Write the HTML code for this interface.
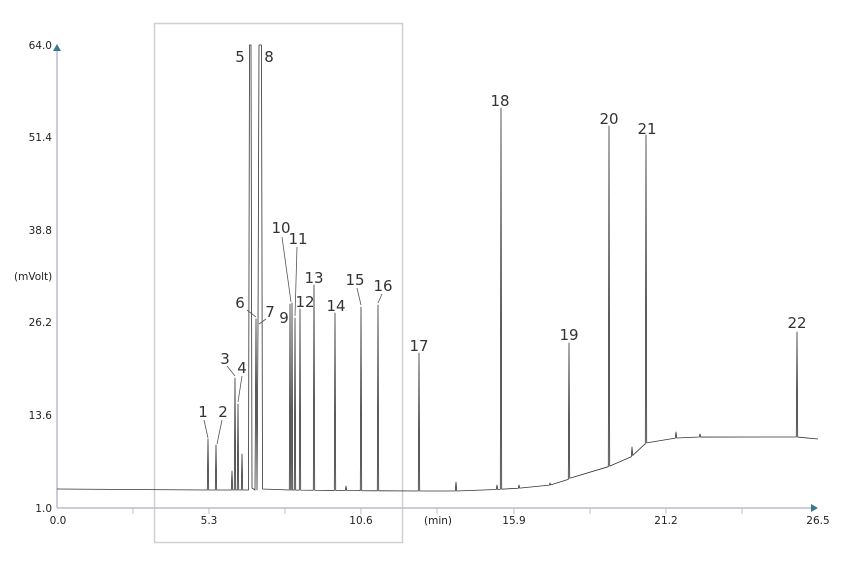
<!DOCTYPE html>
<html><head><meta charset="utf-8"><style>
html,body{margin:0;padding:0;background:#fff;}
svg{display:block;font-family:"DejaVu Sans","Liberation Sans",sans-serif;}
</style></head><body>
<svg id="s" width="846" height="563" viewBox="0 0 846 563" xmlns="http://www.w3.org/2000/svg">
<rect x="154.5" y="23.5" width="248" height="519" fill="none" stroke="#d0d0d0" stroke-width="1.5"/>
<line x1="57" y1="508" x2="812" y2="508" stroke="#b9bdd0" stroke-width="1.5"/>
<line x1="57" y1="508" x2="57" y2="50" stroke="#b9bdd0" stroke-width="1.5"/>
<polygon points="53,51 61,51 57,44" fill="#3a7892"/>
<polygon points="811,504 811,512 818,508" fill="#3a7892"/>
<g stroke="#b9bdd0" stroke-width="1">
<line x1="133" y1="508" x2="133" y2="514"/><line x1="209" y1="508" x2="209" y2="514"/>
<line x1="285" y1="508" x2="285" y2="514"/><line x1="361" y1="508" x2="361" y2="514"/>
<line x1="437" y1="508" x2="437" y2="514"/><line x1="514" y1="508" x2="514" y2="514"/>
<line x1="590" y1="508" x2="590" y2="514"/><line x1="666" y1="508" x2="666" y2="514"/>
<line x1="742" y1="508" x2="742" y2="514"/>
</g>
<g font-size="10.5" fill="#222" text-anchor="end">
<text x="52" y="49">64.0</text><text x="52" y="141">51.4</text><text x="52" y="234">38.8</text>
<text x="52" y="326">26.2</text><text x="52" y="419">13.6</text><text x="52" y="512">1.0</text>
</g>
<text x="14" y="280" font-size="10.5" fill="#222">(mVolt)</text>
<g font-size="10.5" fill="#222" text-anchor="middle">
<text x="58" y="524">0.0</text><text x="209" y="524">5.3</text><text x="361" y="524">10.6</text>
<text x="438" y="524">(min)</text><text x="514" y="524">15.9</text><text x="666" y="524">21.2</text><text x="818" y="524">26.5</text>
</g>
<path id="tr" fill="none" stroke="#333" stroke-width="0.8" stroke-linejoin="round"/>
<g stroke="#555" stroke-width="0.8">
<line x1="204" y1="420" x2="208" y2="438"/><line x1="222" y1="420" x2="217" y2="444"/>
<line x1="227" y1="366" x2="235" y2="376"/><line x1="242" y1="376" x2="238" y2="402"/>
<line x1="247" y1="310" x2="256" y2="317"/><line x1="266" y1="319" x2="259" y2="324"/>
<line x1="282" y1="237" x2="291" y2="302"/><line x1="297" y1="247" x2="295" y2="316"/>
<line x1="357" y1="288" x2="361" y2="305"/><line x1="382" y1="294" x2="378" y2="303"/>
</g>
<g font-size="15" fill="#333" text-anchor="middle">
<text x="203" y="417">1</text><text x="223" y="417">2</text><text x="225" y="364">3</text>
<text x="242" y="373">4</text><text x="240" y="62">5</text><text x="269" y="62">8</text>
<text x="240" y="308">6</text><text x="270" y="317">7</text><text x="281" y="233">10</text>
<text x="298" y="244">11</text><text x="284" y="323">9</text><text x="305" y="307">12</text>
<text x="314" y="283">13</text><text x="336" y="311">14</text><text x="355" y="285">15</text>
<text x="383" y="291">16</text><text x="419" y="351">17</text><text x="500" y="106">18</text>
<text x="569" y="340">19</text><text x="609" y="124">20</text><text x="647" y="134">21</text>
<text x="797" y="328">22</text>
</g>
</svg>
<script>
var base=[[57,489],[200,490],[262,490],[265,484],[272,488],[285,490],[400,491],[470,491],[540,487],[565,482],[570,478],[605,468],[630,458],[646,443],[660,440],[676,438],[700,437],[730,440],[740,437],[797,437],[818,439]];
function b(x){for(var i=0;i<base.length-1;i++){var a=base[i],c=base[i+1];if(x>=a[0]&&x<=c[0])return a[1]+(c[1]-a[1])*(x-a[0])/(c[0]-a[0]);}return 489;}
var pk=[[208,439],[216,445],[232,471],[235,378],[238,404],[242,454],[256,319],[258,326],[290,304],[292,303],[295,318],[300,309],[314,285],[335,313],[346,486],[361,307],[378,305],[419,353],[456,482],[497,485],[501,108],[519,485],[550,483],[569,343],[609,126],[632,447],[646,135],[676,432],[700,434],[797,332]];
var d="M57,"+b(57);
for(var i=0;i<pk.length;i++){var x=pk[i][0],y=pk[i][1];
 if(x==256){d+=" L248.5,"+b(248)+" L249.5,45 L251,45 L252,488 L255,"+b(255)+" L256,"+y+" L257,"+b(257)+" L258,"+pk[7][1]+" L259,45 L261.5,45 L262.5,"+b(262.5);i++;continue;}
 d+=" L"+(x-0.7)+","+b(x-0.7)+" L"+x+","+y+" L"+(x+0.7)+","+b(x+0.7);}
d+=" L818,"+b(818);
document.getElementById("tr").setAttribute("d",d);
</script>
</body></html>
